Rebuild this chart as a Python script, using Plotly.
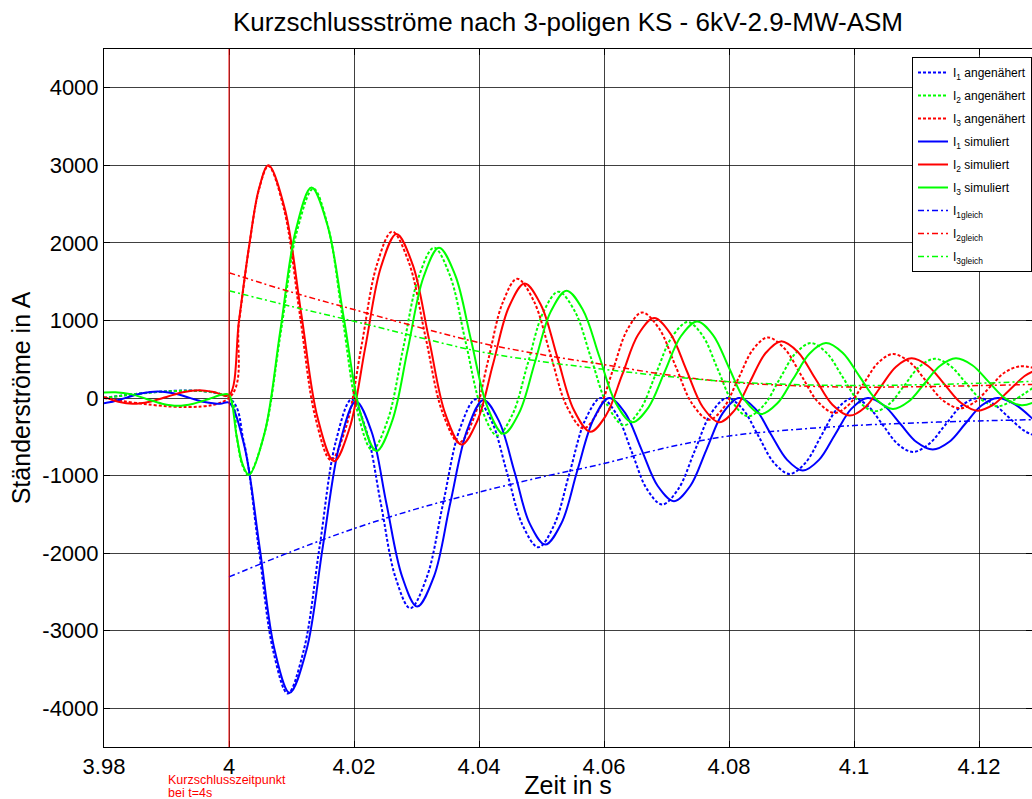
import plotly.graph_objects as go

# ---- Achsen ----
x_ticks = [3.98, 4.00, 4.02, 4.04, 4.06, 4.08, 4.10, 4.12]
x_ticklabels = ["3.98", "4", "4.02", "4.04", "4.06", "4.08", "4.1", "4.12"]
y_ticks = [-4000, -3000, -2000, -1000, 0, 1000, 2000, 3000, 4000]
y_ticklabels = ["-4000", "-3000", "-2000", "-1000", "0", "1000", "2000", "3000", "4000"]

# ---- I1 angenähert (A) ----
t_i1_ang = [3.98, 4.0,
            4.00235, 4.0047, 4.00705, 4.0094, 4.01195, 4.0145, 4.01705, 4.0196,
            4.02195, 4.0243, 4.02665, 4.0290, 4.03163, 4.03425, 4.03688, 4.0395,
            4.0420, 4.0445, 4.0470, 4.0495, 4.0520, 4.0545, 4.0570, 4.0595,
            4.06195, 4.0644, 4.06685, 4.0693, 4.0719, 4.0745, 4.0771, 4.0797,
            4.0822, 4.0847, 4.0872, 4.0897, 4.09223, 4.09475, 4.09728, 4.0998,
            4.1022, 4.1046, 4.1070, 4.1094, 4.1120, 4.1146, 4.1172, 4.1198,
            4.12225, 4.1247, 4.12715, 4.1286]
i1_ang = [0, 0,
          -558, -1905, -3252, -3810, -3255, -1915, -575, -20,
          -414, -1365, -2316, -2710, -2315, -1362, -410, -15,
          -295, -969, -1644, -1924, -1642, -962, -282, 0,
          -201, -686, -1172, -1373, -1172, -686, -201, 0,
          -143, -489, -836, -979, -836, -489, -143, 0,
          -102, -347, -593, -695, -593, -347, -102, 0,
          -72, -245, -418, -475]

# ---- I2 angenähert (A) ----
t_i2_ang = [3.98, 4.0, 4.0012, 4.0021, 4.0031,
            4.0057, 4.0083, 4.0109, 4.0135, 4.01585, 4.0182, 4.02055, 4.0229,
            4.02538, 4.02785, 4.03033, 4.0328, 4.03533, 4.03785, 4.04038, 4.0429,
            4.04535, 4.0478, 4.05025, 4.0527, 4.05533, 4.05795, 4.06058, 4.0632,
            4.06575, 4.0683, 4.07085, 4.0734, 4.0758, 4.0782, 4.0806, 4.0830,
            4.08553, 4.08805, 4.09058, 4.0931, 4.09565, 4.0982, 4.10075, 4.1033,
            4.1057, 4.1081, 4.1105, 4.1129, 4.11538, 4.11785, 4.12033, 4.1228,
            4.12525, 4.1286]
i2_ang = [0, 0, -490, -860, -990,
          -450, 855, 2159, 2700, 2207, 1015, -175, -669,
          -287, 634, 1556, 1938, 1583, 726, -130, -485,
          -213, 443, 1099, 1371, 1118, 509, -100, -352,
          -157, 313, 784, 979, 801, 371, -58, -236,
          -98, 236, 570, 708, 579, 268, -43, -172,
          -73, 167, 407, 506, 416, 199, -17, -107,
          -40, 129]

# ---- I3 angenähert (A) ----
t_i3_ang = [3.98, 4.0, 4.0016, 4.0032, 4.0048, 4.0063,
            4.0088, 4.0113, 4.0138, 4.0163, 4.01875, 4.0212, 4.02365, 4.0261,
            4.02878, 4.03145, 4.03413, 4.0368, 4.03913, 4.04145, 4.04378, 4.0461,
            4.04875, 4.0514, 4.05405, 4.0567, 4.05905, 4.0614, 4.06375, 4.0661,
            4.06878, 4.07145, 4.07413, 4.0768, 4.07915, 4.0815, 4.08385, 4.0862,
            4.08888, 4.09155, 4.09423, 4.0969, 4.09923, 4.10155, 4.10388, 4.1062,
            4.10888, 4.11155, 4.11423, 4.1169, 4.1193, 4.1217, 4.1241, 4.1265,
            4.1286]
i3_ang = [0, 0, 980, 1940, 2690, 2990,
          2435, 1095, -245, -800, -368, 673, 1714, 2146,
          1747, 784, -178, -577, -267, 480, 1227, 1537,
          1254, 572, -109, -392, -173, 355, 884, 1103,
          900, 412, -77, -279, -124, 251, 626, 781,
          638, 294, -50, -193, -82, 187, 456, 567,
          464, 217, -30, -133, -54, 137, 329, 408,
          390]

# ---- I1 simuliert (A) ----
t_i1_sim = [3.98, 3.9811, 3.9836, 3.9861, 3.9886, 3.9911, 3.9936, 3.9961, 3.9986, 4.0,
            4.0024, 4.0049, 4.0073, 4.0097, 4.0124, 4.0150, 4.0177, 4.0203,
            4.0228, 4.0252, 4.0277, 4.0301, 4.0328, 4.0354, 4.0381, 4.0407,
            4.0432, 4.0457, 4.0481, 4.0506, 4.0532, 4.0557, 4.0583, 4.0608,
            4.0634, 4.0660, 4.0686, 4.0712, 4.0738, 4.0764, 4.0790, 4.0816,
            4.0842, 4.0867, 4.0893, 4.0918, 4.0944, 4.0970, 4.0996, 4.1022,
            4.1048, 4.1074, 4.1100, 4.1126, 4.1152, 4.1178, 4.1204, 4.1230,
            4.1256, 4.1286]
i1_sim = [-67, -52, 5, 62, 85, 62, 5, -52, -75, -60,
          -600, -1925, -3250, -3800, -3250, -1922, -595, -45,
          -432, -1367, -2303, -2690, -2300, -1357, -415, -25,
          -298, -957, -1617, -1890, -1613, -945, -277, 0,
          -195, -665, -1135, -1330, -1135, -665, -195, 0,
          -137, -467, -798, -935, -798, -467, -137, 0,
          -97, -332, -568, -665, -568, -332, -97, 0,
          -75, -270]

# ---- I2 simuliert (A) ----
t_i2_sim = [3.98, 3.9823, 3.9846, 3.9873, 3.9900, 3.9926, 3.9953, 3.9977, 4.0,
            4.0016, 4.0032, 4.0048, 4.0063,
            4.00893, 4.01155, 4.01418, 4.0168, 4.0193, 4.0218, 4.0243, 4.0268,
            4.0294, 4.0320, 4.0346, 4.0372, 4.03973, 4.04225, 4.04478, 4.0473,
            4.04993, 4.05255, 4.05518, 4.0578, 4.06035, 4.0629, 4.06545, 4.0680,
            4.0706, 4.0732, 4.0758, 4.0784, 4.08088, 4.08335, 4.08583, 4.0883,
            4.09105, 4.0938, 4.09655, 4.0993, 4.10178, 4.10425, 4.10673, 4.1092,
            4.11185, 4.1145, 4.11715, 4.1198, 4.1223, 4.1248, 4.1273, 4.1286]
i2_sim = [13, -48, -74, -48, 13, 75, 100, 75, 35,
          1000, 1950, 2700, 3000,
          2441, 1092, -256, -815, -386, 650, 1686, 2115,
          1717, 757, -202, -600, -296, 438, 1173, 1477,
          1197, 521, -155, -435, -220, 297, 815, 1030,
          833, 358, -116, -313, -160, 208, 577, 730,
          590, 251, -87, -227, -119, 142, 403, 511,
          412, 174, -64, -163, -86, 98, 283, 340]

# ---- I3 simuliert (A) ----
t_i3_sim = [3.98, 3.9818, 3.9843, 3.9868, 3.9893, 3.9918, 3.9943, 3.9968, 3.9990, 4.0,
            4.0012, 4.0022, 4.0032,
            4.0057, 4.0082, 4.0107, 4.0132, 4.0158, 4.0184, 4.0210, 4.0236,
            4.0261, 4.0286, 4.0311, 4.0336, 4.03618, 4.03875, 4.04133, 4.0439,
            4.04643, 4.04895, 4.05148, 4.0540, 4.05663, 4.05925, 4.06188, 4.0645,
            4.0671, 4.0697, 4.0723, 4.0749, 4.07745, 4.0800, 4.08255, 4.0851,
            4.0877, 4.0903, 4.0929, 4.0955, 4.09818, 4.10085, 4.10353, 4.1062,
            4.10873, 4.11125, 4.11378, 4.1163, 4.11893, 4.12155, 4.12418, 4.1268,
            4.1286]
i3_sim = [70, 75, 50, -12, -73, -99, -73, -12, 45, 40,
          -480, -860, -990,
          -448, 861, 2171, 2713, 2215, 1015, -185, -683,
          -299, 627, 1554, 1938, 1586, 738, -110, -461,
          -191, 461, 1114, 1384, 1135, 535, -64, -313,
          -123, 337, 796, 987, 812, 390, -31, -206,
          -72, 251, 574, 708, 583, 283, -17, -142,
          -46, 184, 415, 511, 422, 208, -5, -94,
          -60]

# ---- Gleichanteile (A) ----
t_gleich = [4.00, 4.01, 4.02, 4.03, 4.04, 4.05, 4.06, 4.07, 4.08, 4.09, 4.10, 4.11, 4.12, 4.1286]
i1_gleich = [-2307, -1980, -1684, -1430, -1214, -1020, -845, -640, -490, -410, -355, -320, -295, -280]
i2_gleich = [1615, 1365, 1140, 920, 715, 560, 430, 300, 205, 160, 140, 145, 160, 175]
i3_gleich = [1384, 1180, 990, 790, 600, 470, 370, 280, 210, 175, 160, 170, 190, 215]

BLUE, RED, GREEN = "#0000ff", "#ff0000", "#00ff00"
DOT = "3px,2px"
DASHDOT = "6px,3px,2px,3px"

series = [
    (t_i1_ang, i1_ang, BLUE, DOT, 2, "I<sub>1</sub> angenähert"),
    (t_i2_ang, i2_ang, GREEN, DOT, 2, "I<sub>2</sub> angenähert"),
    (t_i3_ang, i3_ang, RED, DOT, 2, "I<sub>3</sub> angenähert"),
    (t_i1_sim, i1_sim, BLUE, "solid", 2, "I<sub>1</sub> simuliert"),
    (t_i2_sim, i2_sim, RED, "solid", 2, "I<sub>2</sub> simuliert"),
    (t_i3_sim, i3_sim, GREEN, "solid", 2, "I<sub>3</sub> simuliert"),
    (t_gleich, i1_gleich, BLUE, DASHDOT, 1.5, "I<sub>1gleich</sub>"),
    (t_gleich, i2_gleich, RED, DASHDOT, 1.5, "I<sub>2gleich</sub>"),
    (t_gleich, i3_gleich, GREEN, DASHDOT, 1.5, "I<sub>3gleich</sub>"),
]

fig = go.Figure()
for k, (tx, iy, col, dash, w, name) in enumerate(series):
    fig.add_trace(go.Scatter(
        x=tx, y=iy, mode="lines", name=name, legendgroup=f"g{k}",
        line=dict(color=col, dash=dash, width=w, shape="spline", smoothing=1),
    ))

FONT = "Liberation Sans, Arial, sans-serif"
x_min, x_max = 3.98, 3.98 + 928 / 6250

fig.update_layout(
    width=1032, height=799,
    margin=dict(l=104, r=0, t=49, b=52),
    paper_bgcolor="white", plot_bgcolor="white",
    font=dict(family=FONT, color="black"),
    title=dict(text="Kurzschlussströme nach 3-poligen KS - 6kV-2.9-MW-ASM",
               x=0.5, xref="paper", xanchor="center", y=1 - 22 / 799, yanchor="middle",
               font=dict(size=26, family=FONT)),
    showlegend=True,
    legend=dict(x=1, xanchor="right", y=1 - 8 / 698, yanchor="top",
                bgcolor="white", bordercolor="black", borderwidth=1,
                font=dict(size=12, family=FONT), tracegroupgap=4,
                itemwidth=30),
    xaxis=dict(range=[x_min, x_max], tickvals=x_ticks, ticktext=x_ticklabels,
               ticks="inside", ticklen=6, tickcolor="black", tickwidth=1,
               showline=True, linecolor="black", linewidth=1, mirror="ticks",
               showgrid=True, gridcolor="rgba(0,0,0,0.75)", gridwidth=1,
               zeroline=False, tickfont=dict(size=22, family=FONT),
               title=dict(text="Zeit in s", font=dict(size=25, family=FONT), standoff=2)),
    yaxis=dict(range=[-4500, 4500], tickvals=y_ticks, ticktext=y_ticklabels,
               ticks="inside", ticklen=6, tickcolor="black", tickwidth=1,
               showline=True, linecolor="black", linewidth=1, mirror="ticks",
               showgrid=True, gridcolor="rgba(0,0,0,0.75)", gridwidth=1,
               zeroline=False, tickfont=dict(size=22, family=FONT),
               title=dict(text="Ständerströme in A", font=dict(size=25, family=FONT), standoff=4)),
)

# Kurzschlusszeitpunkt markieren
fig.add_shape(type="line", xref="x", yref="paper", x0=4.0, x1=4.0, y0=0, y1=1,
              line=dict(color=RED, width=1), layer="above")
for txt, py in (("Kurzschlusszeitpunkt", 780), ("bei t=4s", 793)):
    fig.add_annotation(text=txt, xref="x", yref="paper",
                       x=3.9899, y=(746.7 - py) / 697.7, xanchor="left", yanchor="middle",
                       align="left", showarrow=False,
                       font=dict(size=12.5, color=RED, family=FONT))

fig.write_html("out.html")
